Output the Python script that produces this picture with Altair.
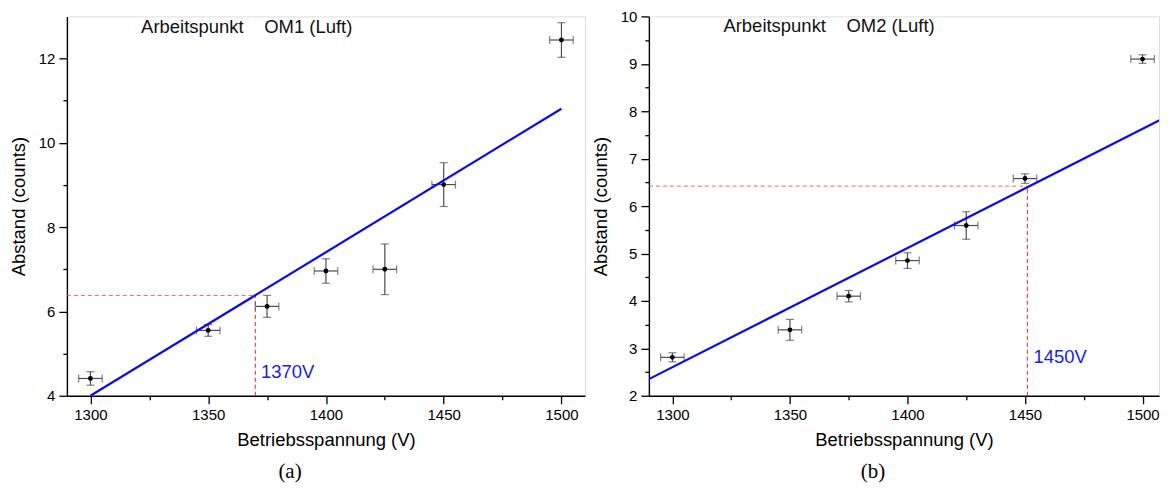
import altair as alt
import pandas as pd

# ---------------- data ----------------
volts = [1300, 1350, 1375, 1400, 1425, 1450, 1500]
volt_err = [5, 5, 5, 5, 5, 5, 5]

om1_counts = [4.41, 5.55, 6.12, 6.96, 7.00, 9.01, 12.44]
om1_err = [0.16, 0.14, 0.26, 0.29, 0.60, 0.52, 0.41]

om2_counts = [2.81, 3.39, 4.10, 4.85, 5.59, 6.58, 9.10]
om2_err = [0.095, 0.22, 0.12, 0.165, 0.29, 0.10, 0.09]

fit1_x = [1300, 1500]
fit1_y = [4.00, 10.81]
fit2_x = [1290, 1510]
fit2_y = [2.35, 7.88]

x1_domain = [1290, 1510]
x2_domain = [1290, 1507]   # right panel is cut by the picture edge
y1_domain = [4, 13]
y2_domain = [2, 10]

op1 = [1370, 6.38]      # operating point OM1
op2 = [1451, 6.42]      # operating point OM2

title1 = "Arbeitspunkt\u00a0\u00a0\u00a0\u00a0OM1 (Luft)"
title2 = "Arbeitspunkt\u00a0\u00a0\u00a0\u00a0OM2 (Luft)"
title1_pos = [1321.5, 12.75]
title2_pos = [1321.7, 9.80]
label1 = "1370V"
label2 = "1450V"
label1_pos = [1372.4, 4.56]
label2_pos = [1453.6, 2.81]

x_ticks = [1300, 1325, 1350, 1375, 1400, 1425, 1450, 1475, 1500]
y1_ticks = [4, 5, 6, 7, 8, 9, 10, 11, 12]
y2_ticks = [2, 2.5, 3, 3.5, 4, 4.5, 5, 5.5, 6, 6.5, 7, 7.5, 8, 8.5, 9, 9.5, 10]

FONT = "Liberation Sans"
ERR_COLOR = "#4d4d4d"
FIT_COLOR = "#0a0aee"


def axis(values, major_test, title_pad, fmt):
    return alt.Axis(
        values=values,
        grid=False,
        domainColor="black",
        domainWidth=1.4,
        tickColor="black",
        tickWidth=1.3,
        tickSize={"condition": {"test": major_test, "value": 8}, "value": 4},
        labelExpr=f"({major_test}) ? datum.label : ''",
        labelFont=FONT,
        labelFontSize=15,
        labelColor="black",
        labelPadding=4,
        labelFlush=False,
        labelOverlap=False,
        titleFont=FONT,
        titleFontSize=18.5,
        titleFontWeight="normal",
        titleColor="black",
        titlePadding=title_pad,
        format=fmt,
    )


def panel(counts, errs, x_domain, y_domain, y_ticks, y_major, fit_x, fit_y, op,
          title_txt, title_pos, lab_txt, lab_pos, caption, cap_dx, width):
    df = pd.DataFrame({
        "x": volts,
        "y": counts,
        "xlo": [v - e for v, e in zip(volts, volt_err)],
        "xhi": [v + e for v, e in zip(volts, volt_err)],
        "ylo": [c - e for c, e in zip(counts, errs)],
        "yhi": [c + e for c, e in zip(counts, errs)],
    })
    xs = alt.Scale(domain=x_domain, nice=False, zero=False)
    ys = alt.Scale(domain=y_domain, nice=False, zero=False)
    xax = axis(x_ticks, "datum.value % 50 === 0", 8, "d")
    yax = axis(y_ticks, y_major, 10, "~g")

    def X(f):
        return alt.X(f, type="quantitative", scale=xs, axis=xax,
                     title="Betriebsspannung (V)")

    def Y(f):
        return alt.Y(f, type="quantitative", scale=ys, axis=yax,
                     title="Abstand (counts)")

    base = alt.Chart(df)
    vbar = base.mark_rule(color=ERR_COLOR, strokeWidth=1.2).encode(
        x=X("x"), y=Y("ylo"), y2="yhi")
    hbar = base.mark_rule(color=ERR_COLOR, strokeWidth=1.2).encode(
        x=X("xlo"), x2="xhi", y=Y("y"))
    cap_lo = base.mark_tick(orient="horizontal", size=8, thickness=1.2,
                            color=ERR_COLOR).encode(x=X("x"), y=Y("ylo"))
    cap_hi = base.mark_tick(orient="horizontal", size=8, thickness=1.2,
                            color=ERR_COLOR).encode(x=X("x"), y=Y("yhi"))
    cap_l = base.mark_tick(orient="vertical", size=8, thickness=1.2,
                           color=ERR_COLOR).encode(x=X("xlo"), y=Y("y"))
    cap_r = base.mark_tick(orient="vertical", size=8, thickness=1.2,
                           color=ERR_COLOR).encode(x=X("xhi"), y=Y("y"))
    pts = base.mark_circle(color="black", opacity=1, size=24).encode(
        x=X("x"), y=Y("y"))

    fit_df = pd.DataFrame({"x": fit_x, "y": fit_y})
    fit = alt.Chart(fit_df).mark_line(
        color=FIT_COLOR, strokeWidth=2.2, clip=True
    ).encode(x=X("x"), y=Y("y"))

    hdash_df = pd.DataFrame({"x": [x_domain[0]], "x2": [op[0]], "y": [op[1]]})
    hdash = alt.Chart(hdash_df).mark_rule(
        color="#dd5a5a", strokeWidth=1, strokeDash=[4, 3], opacity=0.9
    ).encode(x=X("x"), x2="x2", y=Y("y"))
    vdash_df = pd.DataFrame({"x": [op[0]], "y": [y_domain[0]], "y2": [op[1]]})
    vdash = alt.Chart(vdash_df).mark_rule(
        color="#d82828", strokeWidth=1, strokeDash=[4, 3]
    ).encode(x=X("x"), y=Y("y"), y2="y2")

    t_df = pd.DataFrame({"x": [title_pos[0]], "y": [title_pos[1]], "t": [title_txt]})
    ttl = alt.Chart(t_df).mark_text(
        align="left", baseline="middle", font=FONT, fontSize=18.5, color="#111111"
    ).encode(x=X("x"), y=Y("y"), text="t:N")

    l_df = pd.DataFrame({"x": [lab_pos[0]], "y": [lab_pos[1]], "t": [lab_txt]})
    lab = alt.Chart(l_df).mark_text(
        align="left", baseline="middle", font=FONT, fontSize=18.5, color="#1a1aee"
    ).encode(x=X("x"), y=Y("y"), text="t:N")

    return alt.layer(
        hdash, vdash, vbar, hbar, cap_lo, cap_hi, cap_l, cap_r, fit, pts, ttl, lab
    ).properties(
        width=width,
        height=380,
        title=alt.TitleParams(
            caption, orient="bottom", anchor="middle", frame="group",
            font="Liberation Serif", fontSize=21, fontWeight="normal",
            color="black", dx=cap_dx, offset=12,
        ),
    )


left = panel(om1_counts, om1_err, x1_domain, y1_domain, y1_ticks,
             "datum.value % 2 === 0", fit1_x, fit1_y, op1, title1, title1_pos,
             label1, label1_pos, "(a)", -36, 519)
right = panel(om2_counts, om2_err, x2_domain, y2_domain, y2_ticks,
              "datum.value % 1 === 0", fit2_x, fit2_y, op2, title2, title2_pos,
              label2, label2_pos, "(b)", -31, 511)

chart = alt.hconcat(left, right, spacing=4).properties(
    padding={"left": 0, "top": 0, "right": 0, "bottom": 0}
).configure_view(stroke=None).configure(background="white")

chart.save("out.html", embed_options={"renderer": "svg", "actions": False})
